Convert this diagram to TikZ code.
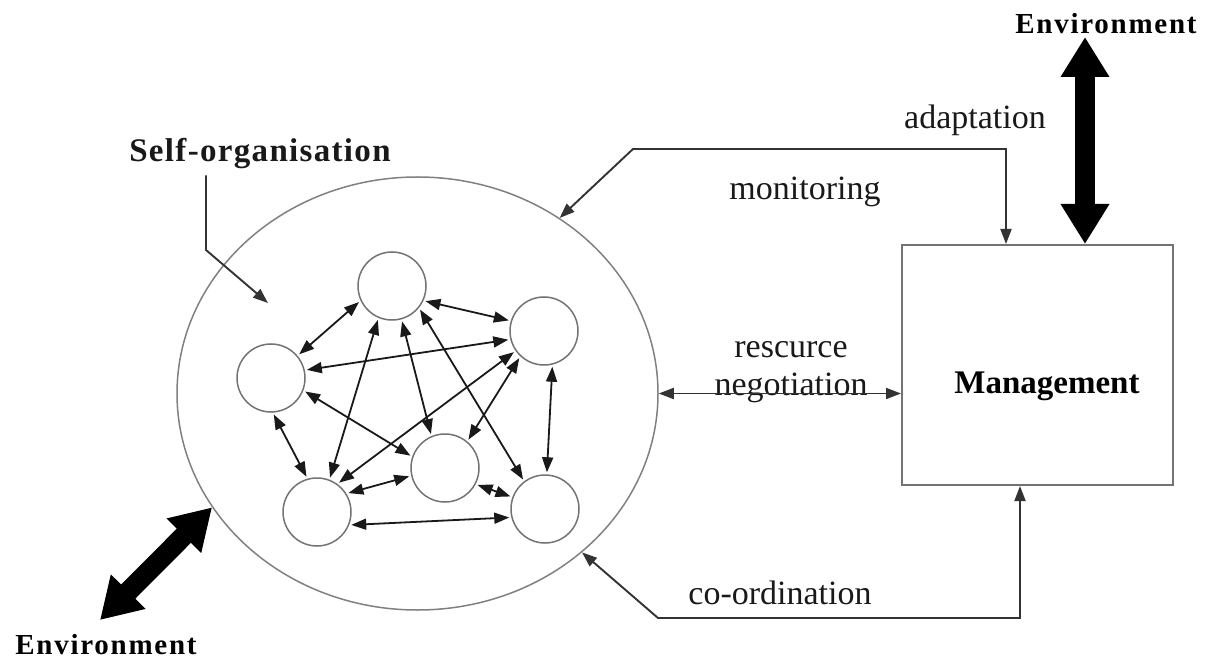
\documentclass[tikz,border=0pt]{standalone}
\usepackage{fontspec}
\setmainfont{Liberation Serif}
\newfontfamily\selffont[LetterSpace=4]{Liberation Serif}
\newfontfamily\envfont[LetterSpace=6]{Liberation Serif}
\usetikzlibrary{arrows.meta,shapes.geometric}
\begin{document}
\begin{tikzpicture}[x=1pt,y=-1pt,
  agent/.style={circle,draw=black!55,line width=1.5pt,minimum size=68pt,inner sep=0pt},
  tipA/.tip={Triangle[length=15pt,width=11pt]},
  link/.style={tipA-tipA,line width=1.8pt,draw=black!90,shorten <=2pt,shorten >=2pt},
  flow/.style={-tipA,line width=1.9pt,draw=black!80},
  both/.style={tipA-tipA,line width=1.9pt,draw=black!80},
  bigarrow/.style={line width=20pt,draw=black,{Triangle[length=40pt,width=46pt]}-{Triangle[length=40pt,width=46pt]}},
  lbl/.style={font=\fontsize{34}{38}\selectfont,text=black!90,inner sep=0pt},
  envlbl/.style={font=\envfont\bfseries\fontsize{29}{32}\selectfont,text=black,inner sep=0pt},
  selflbl/.style={font=\selffont\bfseries\fontsize{33}{36}\selectfont,text=black!90,inner sep=0pt},
  mgmtlbl/.style={font=\bfseries\fontsize{33}{36}\selectfont,text=black,inner sep=0pt}
]
\useasboundingbox (0,0) rectangle (1207,660);

% system boundary
\node[ellipse,draw=black!50,line width=1.5pt,minimum width=481pt,minimum height=433pt,inner sep=0pt] (sys) at (417.5,393.5) {};

% agents
\node[agent] (T)  at (392,286) {};
\node[agent] (L)  at (271,378) {};
\node[agent] (R)  at (544,331) {};
\node[agent] (BL) at (317,512) {};
\node[agent] (M)  at (445,468) {};
\node[agent] (BR) at (545,509) {};

\foreach \a/\b in {T.205/L.40, T.-25/R.163, L.13/R.194, T.247/BL.69, T.-74/M.113,
                   T.-39/BR.127, L.-21/M.161, L.-87/BL.106, R.215/BL.54, R.227/M.50,
                   R.-76/BR.87, BL.32/M.193, M.-28/BR.160, BL.-22/BR.194}
  \draw[link] (\a) -- (\b);

% management
\node[rectangle,draw=black!55,line width=2pt,minimum width=271pt,minimum height=240pt,inner sep=0pt] (mgmt) at (1037.5,365) {};
\node[mgmtlbl] (mtext) at (1047,386) {Management};

% labels
\node[selflbl] (self) at (260,154) {Self-organisation};
\node[envlbl] (envTop) at (1106,24) {Environment};
\node[envlbl] (envBot) at (106,645) {Environment};
\node[lbl] (adapt) at (975,120) {adaptation};
\node[lbl] (monit) at (805,192) {monitoring};
\node[lbl,align=center,font=\fontsize{34}{38}\selectfont] (neg) at (791,372) {rescurce\\negotiation};
\node[lbl] (coord) at (780,593) {co-ordination};

% self-organisation pointer
\coordinate (s2) at (206,250);
\coordinate (s3) at (268,303);
\draw[flow] (self.south -| s2) ++(0,6) -- (s2) -- (s3);

% monitoring / adaptation
\coordinate (mc) at (633,149);
\coordinate (ac) at (1006,149);
\draw[both] (sys.51) -- (mc) -- (ac) -- (ac |- mgmt.north);

% resource negotiation
\draw[both] (sys.-0.6) -- (sys.-0.6 -| mgmt.west);

% co-ordination
\coordinate (ca) at (1020,618);
\coordinate (cb) at (658,618);
\draw[both] (sys.-44) -- (cb) -- (ca) -- (ca |- mgmt.south);

% environment arrows
\coordinate (et) at (1085,37);
\draw[bigarrow] (et) -- (et |- mgmt.north);
\coordinate (eb) at (100,620);
\draw[bigarrow] (sys.209) -- (eb);
\end{tikzpicture}
\end{document}
